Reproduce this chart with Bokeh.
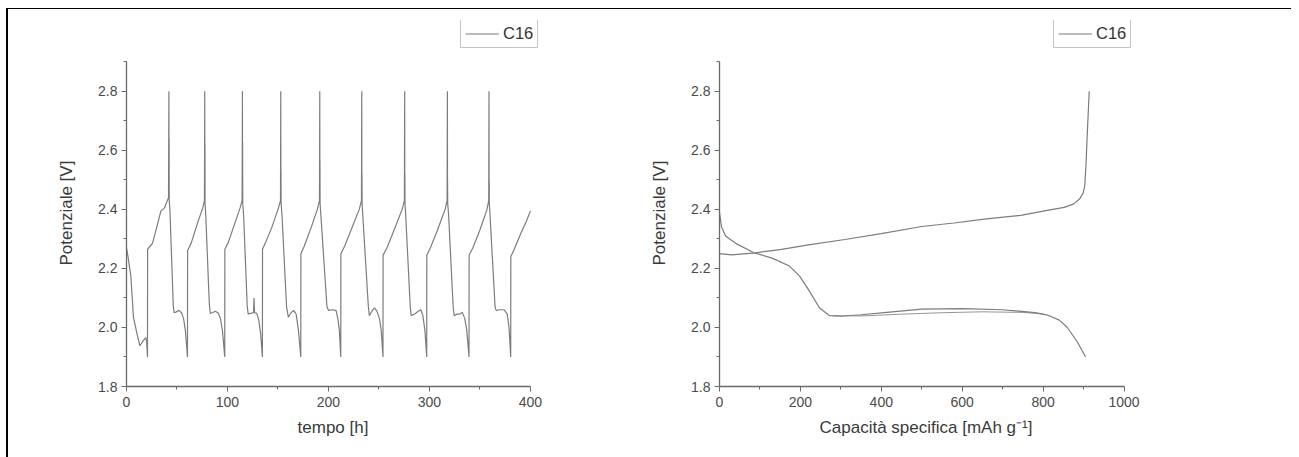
from bokeh.plotting import figure
from bokeh.models import FixedTicker, Legend, LegendItem, Range1d, NumeralTickFormatter, Title
from bokeh.layouts import row
from bokeh.embed import file_html
from bokeh.resources import INLINE

# ---------------- left chart: potential vs time ----------------
tempo_h = [
    0, 1.5, 4.3, 6.9, 10, 13.2, 16, 19.1, 20, 20.8,
    20.9, 25.7, 30, 34, 37.6, 41.6, 42.0, 42.1, 42.2, 42.3,
    43, 46.3, 47.2, 49, 52, 54.5, 56.5, 58.3, 60.4,
    60.5, 64, 70, 75.5, 77.2, 77.5, 77.6, 77.7, 77.8,
    78.5, 82, 83, 85, 88, 91, 93, 95, 97.3,
    97.4, 101, 107, 112.5, 114.5, 114.8, 114.9, 115, 115.1,
    116, 119.5, 120.5, 123, 125.8, 126.3, 126.8, 129, 131, 132.8, 134.6,
    134.7, 138, 144, 150.5, 152.5, 152.8, 152.9, 153, 153.1,
    154, 158.5, 160.3, 163, 165.5, 168, 170.3, 172.6,
    172.7, 176, 183, 189, 191.1, 191.4, 191.5, 191.6, 191.7,
    192.5, 198.5, 200, 204, 207.5, 209.3, 210.8, 212.2,
    212.3, 216, 223, 230.5, 232.7, 233, 233.1, 233.2, 233.3,
    234, 239.5, 240.5, 243, 245.5, 248, 250.5, 252.3, 254,
    254.1, 258, 265, 273, 275.2, 275.5, 275.6, 275.7, 275.8,
    276.5, 281, 282, 285, 289, 291.5, 293.5, 295.5, 297.3,
    297.4, 301, 308, 315.5, 317.5, 317.8, 317.9, 318, 318.1,
    319, 323.5, 324.5, 327, 330, 332.5, 335, 337, 339.2,
    339.3, 343, 350, 357, 358.7, 359, 359.1, 359.2, 359.3,
    360, 365, 366, 370, 374, 377, 378.8, 380.5,
    380.6, 384, 390, 396, 400,
]
potenziale_V = [
    2.27, 2.24, 2.174, 2.034, 1.985, 1.938, 1.952, 1.966, 1.95, 1.90,
    2.265, 2.285, 2.34, 2.394, 2.405, 2.44, 2.80, 2.45, 2.64, 2.43,
    2.40, 2.075, 2.05, 2.052, 2.058, 2.05, 2.03, 1.99, 1.90,
    2.26, 2.285, 2.35, 2.405, 2.43, 2.80, 2.45, 2.62, 2.42,
    2.38, 2.08, 2.048, 2.05, 2.055, 2.048, 2.03, 1.99, 1.90,
    2.265, 2.29, 2.35, 2.405, 2.43, 2.80, 2.45, 2.63, 2.42,
    2.38, 2.075, 2.045, 2.048, 2.05, 2.10, 2.05, 2.048, 2.025, 1.98, 1.90,
    2.265, 2.29, 2.34, 2.405, 2.43, 2.80, 2.45, 2.53, 2.42,
    2.38, 2.07, 2.035, 2.05, 2.058, 2.045, 1.99, 1.90,
    2.25, 2.275, 2.34, 2.40, 2.43, 2.80, 2.45, 2.57, 2.42,
    2.38, 2.07, 2.058, 2.06, 2.058, 2.03, 1.99, 1.90,
    2.25, 2.275, 2.335, 2.40, 2.43, 2.80, 2.45, 2.52, 2.42,
    2.38, 2.07, 2.04, 2.055, 2.066, 2.055, 2.03, 1.99, 1.90,
    2.245, 2.27, 2.33, 2.40, 2.43, 2.80, 2.45, 2.52, 2.42,
    2.38, 2.07, 2.04, 2.045, 2.055, 2.06, 2.04, 1.99, 1.90,
    2.245, 2.27, 2.33, 2.40, 2.43, 2.80, 2.45, 2.49, 2.42,
    2.38, 2.07, 2.04, 2.045, 2.045, 2.052, 2.03, 1.99, 1.90,
    2.245, 2.27, 2.33, 2.40, 2.43, 2.80, 2.45, 2.50, 2.42,
    2.38, 2.07, 2.058, 2.06, 2.06, 2.045, 2.00, 1.90,
    2.24, 2.265, 2.315, 2.36, 2.395,
]

# ---------------- right chart: potential vs specific capacity ----------------
scarica_cap = [0, 5, 15, 40, 85, 130, 173, 198, 222, 247, 272, 300, 350,
               420, 500, 600, 700, 780, 811, 840, 860, 885, 905]
scarica_V = [2.39, 2.34, 2.31, 2.285, 2.253, 2.235, 2.208, 2.174, 2.124, 2.067, 2.04, 2.038, 2.043,
             2.052, 2.062, 2.064, 2.06, 2.05, 2.042, 2.025, 2.0, 1.95, 1.90]
scarica2_cap = [280, 350, 450, 550, 650, 750, 800]
scarica2_V = [2.04, 2.039, 2.045, 2.05, 2.053, 2.051, 2.046]
carica_cap = [0, 30, 90, 150, 220, 310, 400, 500, 580, 660, 745, 810, 852, 875, 890,
              899, 903, 906, 909, 912, 914]
carica_V = [2.25, 2.246, 2.253, 2.264, 2.28, 2.298, 2.318, 2.342, 2.354, 2.368, 2.38, 2.397, 2.407,
            2.418, 2.435, 2.455, 2.48, 2.55, 2.65, 2.74, 2.80]

y_ticks = [1.8, 2.0, 2.2, 2.4, 2.6, 2.8]
y_minor = [1.9, 2.1, 2.3, 2.5, 2.7, 2.9]
x1_ticks = [0, 100, 200, 300, 400]
x1_minor = [50, 150, 250, 350]
x2_ticks = [0, 200, 400, 600, 800, 1000]
x2_minor = [100, 300, 500, 700, 900]

FONT = "Liberation Sans"
LINE_COLOR = "#7c7c7c"
AXIS_COLOR = "#6a6a6a"
LABEL_COLOR = "#3a3a3a"


def style_axis(ax, ticks, minor, bounds):
    ax.ticker = FixedTicker(ticks=ticks, minor_ticks=minor)
    ax.bounds = bounds
    ax.axis_line_color = AXIS_COLOR
    ax.axis_line_width = 1.3
    ax.major_tick_line_color = AXIS_COLOR
    ax.minor_tick_line_color = AXIS_COLOR
    ax.major_tick_out = 5
    ax.major_tick_in = 0
    ax.minor_tick_out = 3
    ax.minor_tick_in = 0
    ax.major_label_text_font = FONT
    ax.major_label_text_font_size = "14px"
    ax.major_label_text_color = "#4a4a4a"
    ax.axis_label_text_font = FONT
    ax.axis_label_text_font_size = "17px"
    ax.axis_label_text_font_style = "normal"
    ax.axis_label_text_color = LABEL_COLOR


def make_fig(width, xr, xbounds, left_border, right_border, xlabel, xt, xm):
    p = figure(width=width, height=448, x_range=Range1d(*xr), y_range=Range1d(1.8, 3.04),
               output_backend="svg", toolbar_location=None,
               min_border_left=left_border, min_border_right=right_border,
               min_border_top=11, min_border_bottom=71)
    p.xgrid.visible = False
    p.ygrid.visible = False
    p.outline_line_color = None
    p.background_fill_color = "white"
    p.border_fill_color = "white"
    p.xaxis.axis_label = xlabel
    style_axis(p.xaxis[0], xt, xm, xbounds)
    style_axis(p.yaxis[0], y_ticks, y_minor, (1.8, 2.9))
    p.yaxis.formatter = NumeralTickFormatter(format="0.0")
    p.xaxis.major_label_standoff = 5
    p.xaxis.axis_label_standoff = 8
    p.yaxis.major_label_standoff = 4
    # y label as a side title so that it can be centred on the 1.8-2.9 axis span
    ylab = Title(text="Potenziale [V]", align="left", offset=121, vertical_align="middle",
                 standoff=38, text_font=FONT, text_font_size="17px",
                 text_font_style="normal", text_color=LABEL_COLOR)
    p.add_layout(ylab, "left")
    return p


def add_legend(p, r):
    leg = Legend(items=[LegendItem(label="C16", renderers=[r])], location=(334, 338),
                 border_line_color="#8a8a8a", border_line_width=1,
                 background_fill_color="white", background_fill_alpha=1,
                 label_text_font=FONT, label_text_font_size="16.5px", label_text_color="#333333",
                 glyph_width=34, glyph_height=15, label_height=15, label_standoff=4,
                 padding=4, spacing=0, margin=0)
    p.add_layout(leg)


# left figure: frame 126..539 px, 0..409 h
p1 = make_fig(600, (0, 409), (0, 400), 118, 69, "tempo [h]", x1_ticks, x1_minor)
r1 = p1.line(tempo_h, potenziale_V, line_color=LINE_COLOR, line_width=1.2)
add_legend(p1, r1)

# right figure: frame 719..1132 px, 0..1021 mAh/g
p2 = make_fig(683, (0, 1021), (0, 1000), 111, 159, "Capacità specifica [mAh g⁻¹]", x2_ticks, x2_minor)
r2 = p2.line(scarica_cap, scarica_V, line_color=LINE_COLOR, line_width=1.2)
p2.line(scarica2_cap, scarica2_V, line_color=LINE_COLOR, line_width=1.0, line_alpha=0.8)
p2.line(carica_cap, carica_V, line_color=LINE_COLOR, line_width=1.2)
add_legend(p2, r2)

layout = row(p1, p2, spacing=0,
             styles={"border-left": "2px solid #000", "border-top": "1px solid #000",
                     "margin": "8px 0px 0px 6px"})

open("out.html", "w").write(file_html(layout, INLINE))
